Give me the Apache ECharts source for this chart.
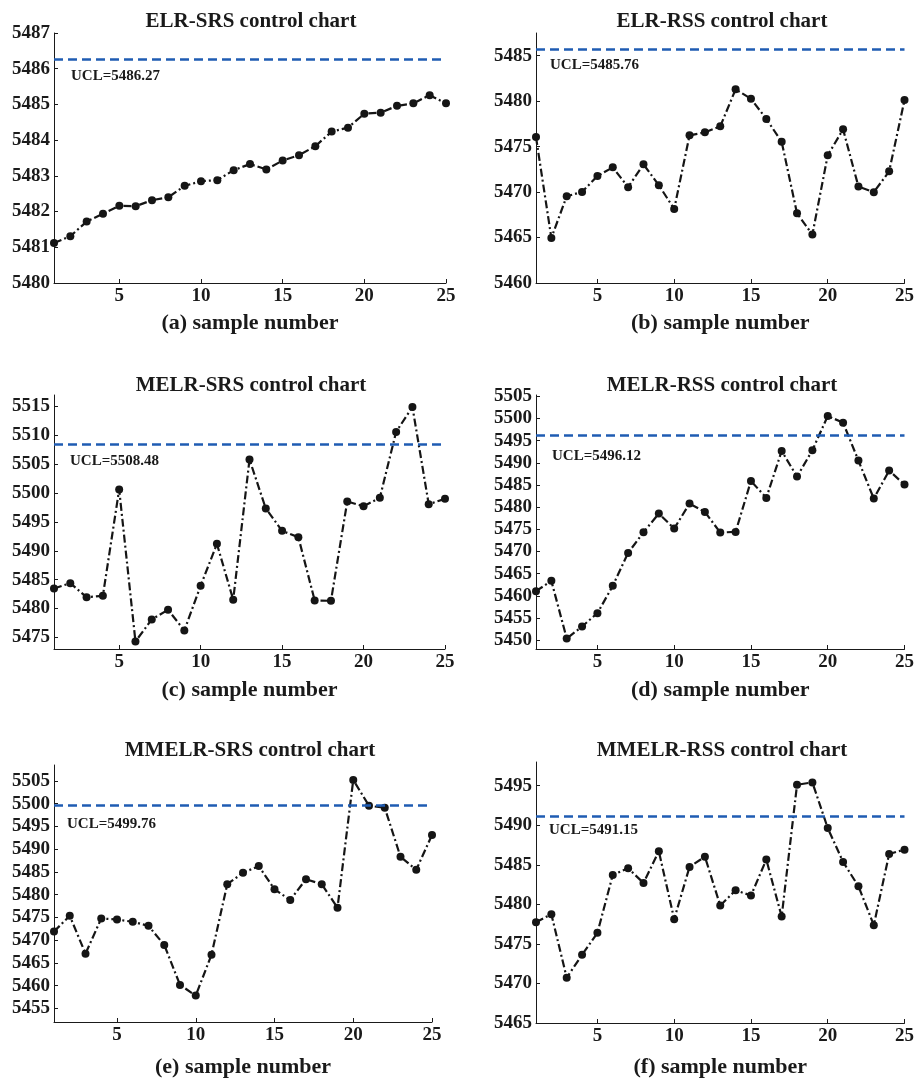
<!DOCTYPE html>
<html>
<head>
<meta charset="utf-8">
<script src="https://cdn.jsdelivr.net/npm/echarts@6/dist/echarts.min.js"></script>
<style>
html,body{margin:0;padding:0;background:#fff;}
#chart{width:917px;height:1081px;}
</style>
</head>
<body>
<div id="chart"></div>
<script>
// ---------------- data ----------------
const sampleNumbers = [1,2,3,4,5,6,7,8,9,10,11,12,13,14,15,16,17,18,19,20,21,22,23,24,25];
const xTickValues = [5,10,15,20,25];

const panelTitles = ['ELR-SRS control chart','ELR-RSS control chart','MELR-SRS control chart','MELR-RSS control chart','MMELR-SRS control chart','MMELR-RSS control chart'];
const xLabels = ['(a) sample number','(b) sample number','(c) sample number','(d) sample number','(e) sample number','(f) sample number'];

const elrSrs   = [5481.12,5481.31,5481.72,5481.94,5482.16,5482.15,5482.32,5482.40,5482.72,5482.85,5482.88,5483.16,5483.33,5483.18,5483.43,5483.58,5483.83,5484.24,5484.35,5484.74,5484.77,5484.96,5485.03,5485.26,5485.03];
const elrRss   = [5476.05,5464.96,5469.54,5470.02,5471.76,5472.72,5470.54,5473.05,5470.76,5468.14,5476.24,5476.57,5477.23,5481.30,5480.27,5478.05,5475.53,5467.66,5465.33,5474.05,5476.90,5470.61,5469.99,5472.28,5480.12];
const melrSrs  = [5483.48,5484.41,5481.98,5482.21,5500.63,5474.31,5478.12,5479.79,5476.21,5483.95,5491.22,5481.52,5505.82,5497.34,5493.47,5492.37,5481.41,5481.35,5498.55,5497.74,5499.18,5510.61,5514.94,5498.09,5499.01];
const melrRss  = [5461.04,5463.37,5450.38,5453.08,5456.09,5462.25,5469.68,5474.34,5478.55,5475.17,5480.80,5478.93,5474.27,5474.42,5485.91,5482.08,5492.67,5486.89,5492.83,5500.56,5499.06,5490.50,5481.93,5488.24,5485.09];
const mmelrSrs = [5471.89,5475.35,5467.02,5474.76,5474.54,5474.03,5473.14,5468.94,5460.16,5457.80,5466.80,5482.29,5484.79,5486.27,5481.18,5478.82,5483.39,5482.29,5477.12,5505.22,5499.54,5499.10,5488.33,5485.46,5493.13];
const mmelrRss = [5477.75,5478.76,5470.72,5473.62,5476.40,5483.72,5484.56,5482.71,5486.71,5478.13,5484.73,5486.03,5479.85,5481.79,5481.11,5485.66,5478.46,5495.12,5495.42,5489.65,5485.36,5482.29,5477.37,5486.37,5486.92];

const uclValues = [5486.27, 5485.76, 5508.48, 5496.12, 5499.76, 5491.15];

const yTicksA = [5480,5481,5482,5483,5484,5485,5486,5487];
const yTicksB = [5460,5465,5470,5475,5480,5485];
const yTicksC = [5475,5480,5485,5490,5495,5500,5505,5510,5515];
const yTicksD = [5450,5455,5460,5465,5470,5475,5480,5485,5490,5495,5500,5505];
const yTicksE = [5455,5460,5465,5470,5475,5480,5485,5490,5495,5500,5505];
const yTicksF = [5465,5470,5475,5480,5485,5490,5495];

const yAxisMin = [5480, 5460, 5473, 5448, 5452, 5465];
const yAxisMax = [5487, 5487.5, 5517, 5505.3, 5508.5, 5498];

// ---------------- layout (not data) ----------------
const seriesList = [elrSrs, elrRss, melrSrs, melrRss, mmelrSrs, mmelrRss];
const yTickList = [yTicksA, yTicksB, yTicksC, yTicksD, yTicksE, yTicksF];
const layout = [
  {left:54,  top:33,  width:392, height:250, titleX:246, titleY:6,   nameGap:29, lblDist:[17,10]},
  {left:536, top:33,  width:370, height:250, titleX:717, titleY:6,   nameGap:29, lblDist:[14,9]},
  {left:54,  top:395, width:391, height:254, titleX:246, titleY:370, nameGap:30, lblDist:[16,9]},
  {left:536, top:395, width:370, height:254, titleX:717, titleY:370, nameGap:30, lblDist:[16,13]},
  {left:54,  top:765, width:378, height:257, titleX:245, titleY:735, nameGap:34, lblDist:[13,12]},
  {left:536, top:762, width:370, height:261, titleX:717, titleY:735, nameGap:33, lblDist:[13,6]}
];

const FONT = '"Liberation Serif", "Times New Roman", serif';
const INK = '#1a1a1a';
const plain = v => String(v);

const grids = [], xAxes = [], yAxes = [], series = [], titles = [];
layout.forEach((L, i) => {
  grids.push({left:L.left, top:L.top, width:L.width, height:L.height, containLabel:false});
  titles.push({
    text: panelTitles[i], left: L.titleX, top: L.titleY, textAlign: 'center',
    textStyle: {fontFamily: FONT, fontWeight: 'bold', fontSize: 21, color: INK}
  });
  xAxes.push({
    gridIndex: i, type: 'value', min: 1, max: 25,
    name: xLabels[i], nameLocation: 'middle', nameGap: L.nameGap,
    nameTextStyle: {fontFamily: FONT, fontWeight: 'bold', fontSize: 22, color: INK},
    axisLine: {show: true, onZero: false, lineStyle: {color: INK, width: 1}},
    axisTick: {show: true, inside: true, length: 4, customValues: xTickValues, lineStyle: {color: INK}},
    axisLabel: {customValues: xTickValues, formatter: plain, fontFamily: FONT, fontWeight: 'bold', fontSize: 19, color: INK, margin: 4},
    splitLine: {show: false}
  });
  yAxes.push({
    gridIndex: i, type: 'value', min: yAxisMin[i], max: yAxisMax[i],
    axisLine: {show: true, onZero: false, lineStyle: {color: INK, width: 1}},
    axisTick: {show: true, inside: true, length: 4, customValues: yTickList[i], lineStyle: {color: INK}},
    axisLabel: {customValues: yTickList[i], formatter: plain, fontFamily: FONT, fontWeight: 'bold', fontSize: 19, color: INK, margin: 4},
    splitLine: {show: false}
  });
  series.push({
    type: 'line', xAxisIndex: i, yAxisIndex: i,
    data: sampleNumbers.map((x, k) => [x, seriesList[i][k]]),
    symbol: 'circle', symbolSize: 8,
    itemStyle: {color: '#151515'},
    lineStyle: {color: '#151515', width: 2.2, type: [8, 3, 2, 3]},
    animation: false,
    markLine: {
      silent: true, symbol: 'none', animation: false,
      lineStyle: {color: '#1f5cb3', width: 2.6, type: [9, 5]},
      label: {
        show: true, position: 'insideStartBottom', distance: L.lblDist,
        formatter: 'UCL=' + uclValues[i].toFixed(2),
        fontFamily: FONT, fontWeight: 'bold', fontSize: 15, color: INK
      },
      data: [{yAxis: uclValues[i]}]
    }
  });
});

const chart = echarts.init(document.getElementById('chart'), null, {renderer: 'canvas'});
chart.setOption({
  backgroundColor: '#fff',
  animation: false,
  title: titles,
  grid: grids,
  xAxis: xAxes,
  yAxis: yAxes,
  series: series
});
</script>
</body>
</html>
